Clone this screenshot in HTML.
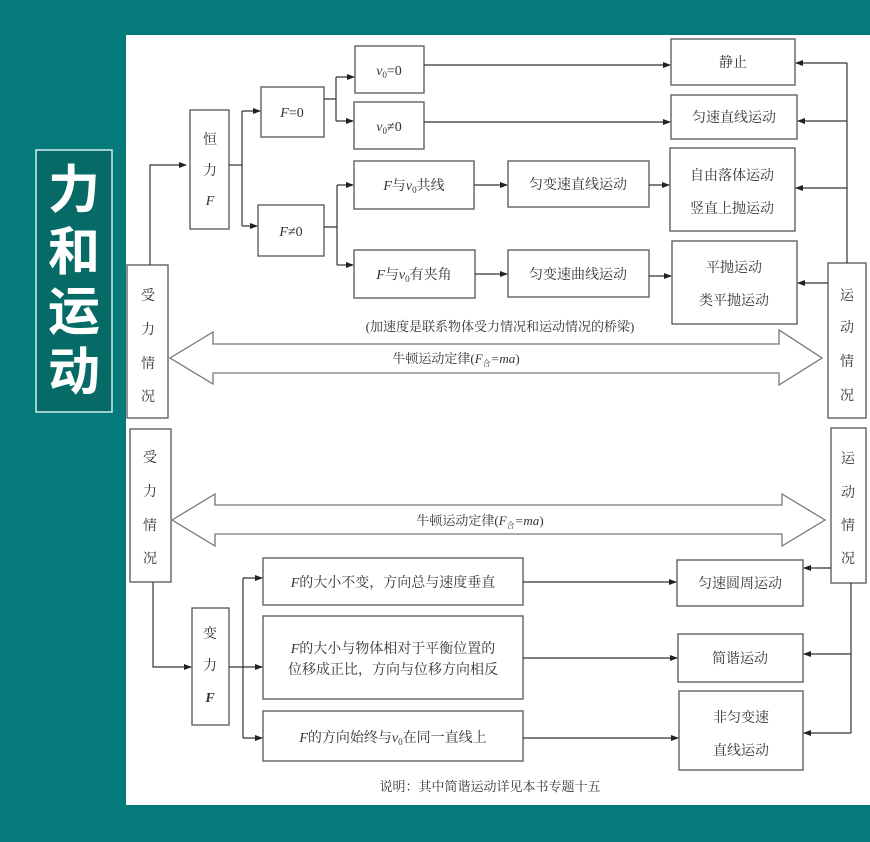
<!DOCTYPE html>
<html><head><meta charset="utf-8"><style>
html,body{margin:0;padding:0;background:#047a7a;}
svg{display:block}
</style></head><body>
<svg width="870" height="842" viewBox="0 0 870 842" xmlns="http://www.w3.org/2000/svg">
<defs>
<marker id="a" markerWidth="8" markerHeight="6" refX="7" refY="3" orient="auto" markerUnits="userSpaceOnUse"><path d="M0,0 L8,3 L0,6 z" fill="#222"/></marker>
</defs>
<rect width="870" height="842" fill="#047a7a"/>
<rect x="36" y="150" width="76" height="262" fill="#066b66" stroke="#cfeeee" stroke-width="1.5"/>
<g font-family="'Liberation Sans','Noto Sans CJK SC',sans-serif" font-size="52" font-weight="bold" fill="#fff" text-anchor="middle">
<text x="74" y="208">力</text><text x="74" y="270">和</text><text x="74" y="330">运</text><text x="74" y="390">动</text>
</g>
<rect x="126" y="35" width="744" height="770" fill="#fff"/>
<g fill="#fff" stroke="#555" stroke-width="1.3">
<rect x="127" y="265" width="41" height="153"/>
<rect x="190" y="110" width="39" height="119"/>
<rect x="261" y="87" width="63" height="50"/>
<rect x="258" y="205" width="66" height="51"/>
<rect x="355" y="46" width="69" height="47"/>
<rect x="354" y="102" width="70" height="47"/>
<rect x="354" y="161" width="120" height="48"/>
<rect x="354" y="250" width="121" height="48"/>
<rect x="508" y="161" width="141" height="46"/>
<rect x="508" y="250" width="141" height="47"/>
<rect x="671" y="39" width="124" height="46"/>
<rect x="671" y="95" width="126" height="44"/>
<rect x="670" y="148" width="125" height="83"/>
<rect x="672" y="241" width="125" height="83"/>
<rect x="828" y="263" width="38" height="155"/>
<rect x="130" y="429" width="41" height="153"/>
<rect x="831" y="428" width="35" height="155"/>
<rect x="192" y="608" width="37" height="117"/>
<rect x="263" y="558" width="260" height="47"/>
<rect x="263" y="616" width="260" height="83"/>
<rect x="263" y="711" width="260" height="50"/>
<rect x="677" y="560" width="126" height="46"/>
<rect x="678" y="634" width="125" height="48"/>
<rect x="679" y="691" width="124" height="79"/>
</g>
<g fill="none" stroke="#333" stroke-width="1.2">
<path d="M150,265 V165 H186" marker-end="url(#a)"/>
<path d="M229,165 H242"/>
<path d="M242,111 V226"/>
<path d="M242,111 H260" marker-end="url(#a)"/>
<path d="M242,226 H257" marker-end="url(#a)"/>
<path d="M324,99 H336 M336,77 V121"/>
<path d="M336,77 H354" marker-end="url(#a)"/>
<path d="M336,121 H353" marker-end="url(#a)"/>
<path d="M324,227 H337 M337,185 V265"/>
<path d="M337,185 H353" marker-end="url(#a)"/>
<path d="M337,265 H353" marker-end="url(#a)"/>
<path d="M424,65 H670" marker-end="url(#a)"/>
<path d="M424,122 H670" marker-end="url(#a)"/>
<path d="M474,185 H507" marker-end="url(#a)"/>
<path d="M475,274 H507" marker-end="url(#a)"/>
<path d="M649,185 H669" marker-end="url(#a)"/>
<path d="M649,276 H671" marker-end="url(#a)"/>
<path d="M847,263 V63"/>
<path d="M847,63 H796" marker-end="url(#a)"/>
<path d="M847,121 H798" marker-end="url(#a)"/>
<path d="M847,188 H796" marker-end="url(#a)"/>
<path d="M828,283 H798" marker-end="url(#a)"/>
<path d="M153,582 V667 H191" marker-end="url(#a)"/>
<path d="M229,667 H243 M243,578 V738"/>
<path d="M243,578 H262" marker-end="url(#a)"/>
<path d="M243,667 H262" marker-end="url(#a)"/>
<path d="M243,738 H262" marker-end="url(#a)"/>
<path d="M523,582 H676" marker-end="url(#a)"/>
<path d="M523,658 H677" marker-end="url(#a)"/>
<path d="M523,738 H678" marker-end="url(#a)"/>
<path d="M831,568 H804" marker-end="url(#a)"/>
<path d="M851,583 V733"/>
<path d="M851,654 H804" marker-end="url(#a)"/>
<path d="M851,733 H804" marker-end="url(#a)"/>
</g>
<g fill="#fff" stroke="#777" stroke-width="1.3">
<path d="M170,358 L213,332 V344 H779 V330 L822,358 L779,385 V373 H213 V384 Z"/>
<path d="M172,520 L215,494 V505 H782 V494 L825,520 L782,546 V534 H215 V546 Z"/>
</g>
<g font-family="'Liberation Serif','Noto Serif CJK SC',serif" font-size="14" fill="#333" text-anchor="middle">
<text x="148" y="300">受</text><text x="148" y="334">力</text><text x="148" y="368">情</text><text x="148" y="401">况</text>
<text x="210" y="144">恒</text><text x="210" y="175">力</text><text x="210" y="205" font-style="italic">F</text>
<text x="292" y="117"><tspan font-style="italic">F</tspan>=0</text>
<text x="291" y="236"><tspan font-style="italic">F</tspan>≠0</text>
<text x="389" y="75"><tspan font-style="italic">v</tspan><tspan font-size="9" dy="3">0</tspan><tspan dy="-3">=0</tspan></text>
<text x="389" y="131"><tspan font-style="italic">v</tspan><tspan font-size="9" dy="3">0</tspan><tspan dy="-3">≠0</tspan></text>
<text x="414" y="190"><tspan font-style="italic">F</tspan>与<tspan font-style="italic">v</tspan><tspan font-size="9" dy="3">0</tspan><tspan dy="-3">共线</tspan></text>
<text x="414" y="279"><tspan font-style="italic">F</tspan>与<tspan font-style="italic">v</tspan><tspan font-size="9" dy="3">0</tspan><tspan dy="-3">有夹角</tspan></text>
<text x="578" y="189">匀变速直线运动</text>
<text x="578" y="279">匀变速曲线运动</text>
<text x="733" y="67">静止</text>
<text x="734" y="122">匀速直线运动</text>
<text x="732" y="180">自由落体运动</text>
<text x="732" y="213">竖直上抛运动</text>
<text x="734" y="272">平抛运动</text>
<text x="734" y="305">类平抛运动</text>
<text x="847" y="300">运</text><text x="847" y="332">动</text><text x="847" y="366">情</text><text x="847" y="400">况</text>
<text x="500" y="331" font-size="13">(加速度是联系物体受力情况和运动情况的桥梁)</text>
<text x="456" y="363" font-size="13">牛顿运动定律(<tspan font-style="italic">F</tspan><tspan font-size="8" dy="3">合</tspan><tspan dy="-3" font-style="italic">=ma</tspan>)</text>
<text x="480" y="525" font-size="13">牛顿运动定律(<tspan font-style="italic">F</tspan><tspan font-size="8" dy="3">合</tspan><tspan dy="-3" font-style="italic">=ma</tspan>)</text>
<text x="150" y="462">受</text><text x="150" y="496">力</text><text x="150" y="530">情</text><text x="150" y="563">况</text>
<text x="848" y="463">运</text><text x="848" y="497">动</text><text x="848" y="530">情</text><text x="848" y="563">况</text>
<text x="210" y="638">变</text><text x="210" y="670">力</text><text x="210" y="702" font-style="italic" font-weight="bold">F</text>
<text x="393" y="587"><tspan font-style="italic">F</tspan>的大小不变，方向总与速度垂直</text>
<text x="393" y="653"><tspan font-style="italic">F</tspan>的大小与物体相对于平衡位置的</text>
<text x="393" y="674">位移成正比，方向与位移方向相反</text>
<text x="393" y="742"><tspan font-style="italic">F</tspan>的方向始终与<tspan font-style="italic">v</tspan><tspan font-size="9" dy="3">0</tspan><tspan dy="-3">在同一直线上</tspan></text>
<text x="740" y="588">匀速圆周运动</text>
<text x="740" y="663">简谐运动</text>
<text x="741" y="722">非匀变速</text>
<text x="741" y="755">直线运动</text>
<text x="490" y="791" font-size="13">说明：其中简谐运动详见本书专题十五</text>
</g>
</svg>
</body></html>
